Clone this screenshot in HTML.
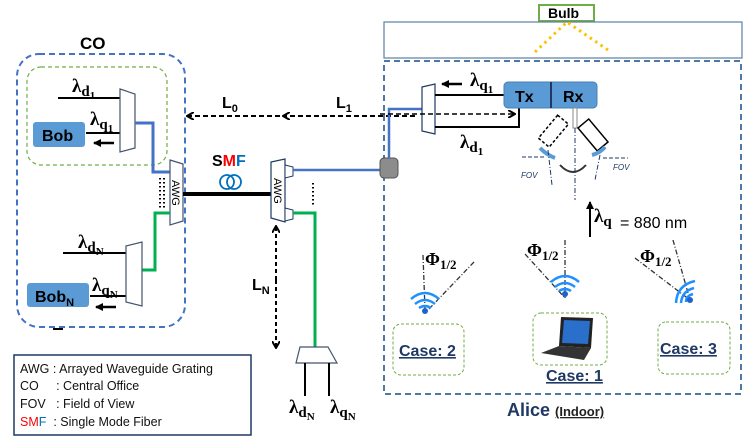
<!DOCTYPE html>
<html><head><meta charset="utf-8"><style>body{margin:0;background:#fff}svg{display:block}</style></head><body>
<svg width="747" height="440" viewBox="0 0 747 440" xmlns="http://www.w3.org/2000/svg" font-family="Liberation Sans, sans-serif">
<defs>
<marker id="ah" markerWidth="8" markerHeight="8" refX="7" refY="4" orient="auto" markerUnits="userSpaceOnUse"><path d="M0,0 L7,4 L0,8" fill="none" stroke="#000" stroke-width="2"/></marker>
<marker id="at" markerWidth="8" markerHeight="8" refX="7" refY="4" orient="auto" markerUnits="userSpaceOnUse"><path d="M0,0 L8,4 L0,8z" fill="#000"/></marker>
</defs>
<!-- CO -->
<text x="80" y="49" font-size="17" font-weight="bold">CO</text>
<rect x="17" y="54" width="168" height="273" rx="22" fill="none" stroke="#4472c4" stroke-width="2" stroke-dasharray="6,4"/>
<rect x="27" y="67" width="140" height="98" rx="14" fill="none" stroke="#70ad47" stroke-width="1.2" stroke-dasharray="4,3"/>
<g font-family="Liberation Serif, serif" font-weight="bold" font-size="19">
<text x="72" y="92">λ<tspan font-size="15" dy="4">d</tspan><tspan font-size="11" dy="3">1</tspan></text>
<text x="90" y="125">λ<tspan font-size="15" dy="4">q</tspan><tspan font-size="11" dy="3">1</tspan></text>
<text x="78" y="248">λ<tspan font-size="15" dy="4">d</tspan><tspan font-size="11" dy="3">N</tspan></text>
<text x="92" y="291">λ<tspan font-size="15" dy="4">q</tspan><tspan font-size="11" dy="3">N</tspan></text>
<text x="289" y="413">λ<tspan font-size="15" dy="4">d</tspan><tspan font-size="11" dy="3">N</tspan></text>
<text x="330" y="413">λ<tspan font-size="15" dy="4">q</tspan><tspan font-size="11" dy="3">N</tspan></text>
<text x="460" y="148">λ<tspan font-size="15" dy="4">d</tspan><tspan font-size="11" dy="3">1</tspan></text>
<text x="470" y="86">λ<tspan font-size="15" dy="4">q</tspan><tspan font-size="11" dy="3">1</tspan></text>
<text x="594" y="222">λ<tspan font-size="15" dy="4">q</tspan></text>
</g>
<line x1="58" y1="98" x2="120" y2="98" stroke="#000" stroke-width="2"/>
<line x1="86" y1="133" x2="120" y2="133" stroke="#000" stroke-width="2"/>
<polygon points="120,89 135,94 135,148 120,152" fill="#fff" stroke="#44546a" stroke-width="1.2"/>
<rect x="33" y="122" width="52" height="25" rx="3" fill="#5b9bd5"/>
<text x="42" y="141" font-size="16" font-weight="bold">Bob</text>
<line x1="114" y1="143" x2="94" y2="143" stroke="#000" stroke-width="2.5" marker-end="url(#at)"/>
<polyline points="135,123 153,123 153,172 170,172" fill="none" stroke="#4472c4" stroke-width="3"/>
<polygon points="170,160 183,164 183,221 170,225" fill="#fff" stroke="#44546a" stroke-width="1.2"/>
<text x="0" y="0" font-size="11" transform="translate(172,180) rotate(90)">AWG</text>
<line x1="160" y1="178" x2="160" y2="208" stroke="#000" stroke-width="2" stroke-dasharray="1.5,2.5"/>
<line x1="164" y1="178" x2="164" y2="208" stroke="#000" stroke-width="2" stroke-dasharray="1.5,2.5"/>
<polyline points="170,213 155,213 155,270 142,270" fill="none" stroke="#00b050" stroke-width="3"/>
<line x1="63" y1="253" x2="126" y2="253" stroke="#000" stroke-width="2"/>
<line x1="90" y1="296" x2="126" y2="296" stroke="#000" stroke-width="2"/>
<polygon points="126,246 142,242 142,306 126,302" fill="#fff" stroke="#44546a" stroke-width="1.2"/>
<rect x="27" y="283" width="62" height="24" rx="3" fill="#5b9bd5"/>
<text x="35" y="302" font-size="16" font-weight="bold">Bob<tspan font-size="11" dy="4">N</tspan></text>
<line x1="116" y1="307" x2="96" y2="307" stroke="#000" stroke-width="2.5" marker-end="url(#at)"/>
<line x1="53" y1="329" x2="63" y2="329" stroke="#000" stroke-width="2"/>
<!-- L0 L1 -->
<line x1="280" y1="116" x2="187" y2="116" stroke="#000" stroke-width="2" stroke-dasharray="5,3" marker-end="url(#ah)"/>
<line x1="415" y1="116" x2="283" y2="116" stroke="#000" stroke-width="2" stroke-dasharray="5,3" marker-end="url(#ah)"/>
<text x="222" y="108" font-size="16" font-weight="bold">L<tspan font-size="11" dy="4">0</tspan></text>
<text x="336" y="108" font-size="16" font-weight="bold">L<tspan font-size="11" dy="4">1</tspan></text>
<!-- SMF -->
<text x="212" y="166" font-size="16" font-weight="bold">S<tspan fill="#ff0000">M</tspan><tspan fill="#0070c0">F</tspan></text>
<circle cx="227" cy="182" r="7" fill="none" stroke="#0070c0" stroke-width="1.8"/>
<circle cx="234" cy="182" r="7" fill="none" stroke="#0070c0" stroke-width="1.8"/>
<line x1="183" y1="194" x2="271" y2="194" stroke="#000" stroke-width="4"/>
<polygon points="271,162 285,159 285,222 271,218" fill="#fff" stroke="#1f3864" stroke-width="1.2"/>
<text font-size="11" transform="translate(274,178) rotate(90)">AWG</text>
<polygon points="285,165 293,167 293,176 285,178" fill="#fff" stroke="#1f3864"/>
<polygon points="285,208 293,210 293,219 285,221" fill="#fff" stroke="#1f3864"/>
<line x1="293" y1="170" x2="383" y2="170" stroke="#4472c4" stroke-width="2.5"/>
<line x1="313" y1="183" x2="313" y2="205" stroke="#000" stroke-width="2" stroke-dasharray="1.5,2.5"/>
<polyline points="293,213 315,213 315,347" fill="none" stroke="#00b050" stroke-width="3"/>
<line x1="276" y1="280" x2="276" y2="226" stroke="#000" stroke-width="2" stroke-dasharray="4,3" marker-end="url(#ah)"/>
<line x1="276" y1="280" x2="276" y2="348" stroke="#000" stroke-width="2" stroke-dasharray="4,3" marker-end="url(#ah)"/>
<text x="252" y="290" font-size="16" font-weight="bold">L<tspan font-size="11" dy="4">N</tspan></text>
<polygon points="300,347 328,347 337,363 296,363" fill="#fff" stroke="#44546a" stroke-width="1.2"/>
<line x1="305" y1="363" x2="305" y2="396" stroke="#000" stroke-width="2"/>
<line x1="329" y1="363" x2="329" y2="396" stroke="#000" stroke-width="2"/>
<!-- legend -->
<rect x="14" y="355" width="237" height="80" fill="#fff" stroke="#1f3864" stroke-width="1.5"/>
<g font-size="12.5" fill="#111">
<text x="20" y="373">AWG : Arrayed Waveguide Grating</text>
<text x="20" y="390">CO&#160;&#160;&#160;&#160;&#160;: Central Office</text>
<text x="20" y="408">FOV&#160;&#160;&#160;: Field of View</text>
<text x="20" y="426"><tspan fill="#ff0000">S</tspan><tspan fill="#ff0000">M</tspan><tspan fill="#0070c0">F</tspan>&#160;&#160;: Single Mode Fiber</text>
</g>
<!-- right side -->
<rect x="539" y="5" width="55" height="16" fill="#fff" stroke="#70ad47" stroke-width="2"/>
<text x="548" y="18" font-size="14" font-weight="bold">Bulb</text>
<rect x="384" y="22" width="358" height="36" fill="none" stroke="#5b7fa8" stroke-width="1.2"/>
<polyline points="535,52 567,22 608,50" fill="none" stroke="#ffc000" stroke-width="3" stroke-dasharray="2.5,4"/>
<rect x="384" y="61" width="357" height="333" fill="none" stroke="#4e79a7" stroke-width="2" stroke-dasharray="6,4"/>
<rect x="380" y="158" width="18" height="20" rx="4" fill="#8c8c8c" stroke="#555"/>
<polyline points="422,109 389,109 389,158" fill="none" stroke="#4472c4" stroke-width="2.5"/>
<polygon points="422,87 435,84 435,134 422,131" fill="#fff" stroke="#1f3864" stroke-width="1.2"/>
<line x1="435" y1="95" x2="506" y2="95" stroke="#000" stroke-width="2"/>
<polyline points="435,127 519,127 519,108" fill="none" stroke="#000" stroke-width="2"/>
<line x1="380" y1="114" x2="515" y2="114" stroke="#000" stroke-width="1.5" stroke-dasharray="5,3" marker-end="url(#ah)"/>
<line x1="462" y1="84" x2="442" y2="84" stroke="#000" stroke-width="2.5" marker-end="url(#at)"/>
<rect x="504" y="82" width="93" height="26" rx="4" fill="#5b9bd5" stroke="#4a7fb5"/>
<line x1="551" y1="82" x2="551" y2="108" stroke="#1f3864" stroke-width="2"/>
<text x="515" y="102" font-size="16" font-weight="bold">Tx</text>
<text x="563" y="102" font-size="16" font-weight="bold">Rx</text>
<rect x="573" y="108" width="4" height="20" fill="#fff" stroke="#888"/>
<rect x="553" y="128" width="14" height="30" fill="none" stroke="#000" stroke-width="1.5" stroke-dasharray="3,2" transform="rotate(40 573 128)"/>
<rect x="578" y="128" width="14" height="30" fill="none" stroke="#000" stroke-width="1.5" transform="rotate(-40 578 128)"/>
<path d="M540,148 q7,7 15,10" fill="none" stroke="#5b9bd5" stroke-width="4"/>
<path d="M592,155 q8,-2 13,-8" fill="none" stroke="#5b9bd5" stroke-width="4"/>
<line x1="575" y1="128" x2="575" y2="200" stroke="#1f3864" stroke-dasharray="5,2,1,2"/>
<line x1="548" y1="150" x2="552" y2="185" stroke="#1f3864" stroke-dasharray="5,2,1,2"/>
<line x1="600" y1="155" x2="595" y2="180" stroke="#1f3864" stroke-dasharray="5,2,1,2"/>
<line x1="522" y1="157" x2="545" y2="157" stroke="#1f3864" stroke-dasharray="4,2"/>
<line x1="603" y1="158" x2="628" y2="158" stroke="#1f3864" stroke-dasharray="4,2"/>
<path d="M560,165 q13,14 26,0" fill="none" stroke="#333" stroke-width="2"/>
<text x="521" y="178" font-size="8" font-style="italic" fill="#1f3864">FOV</text>
<text x="613" y="170" font-size="8" font-style="italic" fill="#1f3864">FOV</text>
<line x1="590" y1="237" x2="590" y2="202" stroke="#000" stroke-width="2" marker-end="url(#at)"/>
<text x="620" y="228" font-size="16">= 880 nm</text>
<!-- cases -->
<g font-family="Liberation Serif, serif" font-weight="bold" font-size="18">
<text x="425" y="265">Φ<tspan font-size="13" dy="4">1/2</tspan></text>
<text x="527" y="256">Φ<tspan font-size="13" dy="4">1/2</tspan></text>
<text x="640" y="262">Φ<tspan font-size="13" dy="4">1/2</tspan></text>
</g>
<g stroke="#333" stroke-width="1.3" stroke-dasharray="5,2,1,2">
<line x1="423" y1="255" x2="425" y2="310"/><line x1="474" y1="262" x2="428" y2="310"/>
<line x1="565" y1="240" x2="565" y2="298"/><line x1="525" y1="254" x2="565" y2="298"/>
<line x1="673" y1="240" x2="690" y2="300"/><line x1="635" y1="258" x2="690" y2="300"/>
</g>
<g fill="none" stroke="#1e90ff" stroke-width="2.5">
<path d="M411,299 q14,-12 28,0 M415,304 q10,-8 20,0 M419,308 q6,-4 12,0"/>
<path d="M551,282 q14,-12 28,0 M555,287 q10,-8 20,0 M559,291 q6,-4 12,0"/>
<path d="M676,303 q1,-18 19,-22 M681,303 q1,-12 13,-15 M686,302 q0,-6 7,-8"/>
</g>
<circle cx="425" cy="311" r="3" fill="#1e64c8"/><circle cx="565" cy="294" r="3" fill="#1e64c8"/><circle cx="690" cy="300" r="3" fill="#1e64c8"/>
<rect x="393" y="324" width="71" height="51" rx="8" fill="none" stroke="#70ad47" stroke-dasharray="3,2"/>
<rect x="533" y="313" width="74" height="52" rx="8" fill="none" stroke="#70ad47" stroke-dasharray="3,2"/>
<rect x="658" y="322" width="72" height="52" rx="8" fill="none" stroke="#70ad47" stroke-dasharray="3,2"/>
<polygon points="561,317 593,318 591,348 559,346" fill="#222"/>
<polygon points="564,320 590,321 588,344 562,343" fill="#2a6fc9"/>
<polygon points="559,346 591,348 584,360 541,353" fill="#333"/>
<g font-size="16" font-weight="bold" fill="#1f3864" text-decoration="underline">
<text x="399" y="356">Case: 2</text>
<text x="546" y="381">Case: 1</text>
<text x="660" y="354">Case: 3</text>
</g>
<text x="507" y="416" font-size="18" font-weight="bold" fill="#1f3864">Alice <tspan font-size="13" fill="#222" text-decoration="underline">(Indoor)</tspan></text>
</svg>
</body></html>
